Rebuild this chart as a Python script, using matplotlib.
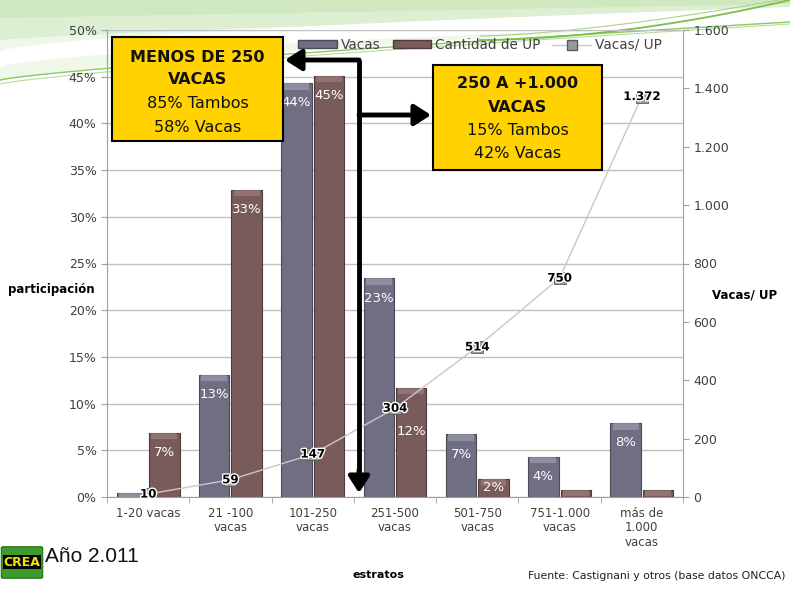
import numpy as np
import matplotlib
matplotlib.use('Agg')
import matplotlib.pyplot as plt
import matplotlib.patches as mpatches
import matplotlib.patheffects as pe
from matplotlib.lines import Line2D
from matplotlib.ticker import FuncFormatter, MultipleLocator

# datos
estratos = ['1-20 vacas', '21 -100\nvacas', '101-250\nvacas', '251-500\nvacas',
            '501-750\nvacas', '751-1.000\nvacas', 'más de\n1.000\nvacas']
vacas = [0.4, 13.1, 44.3, 23.4, 6.7, 4.3, 7.9]
cant_up = [6.9, 32.9, 45.1, 11.7, 1.9, 0.8, 0.8]
vacas_lbl = ['', '13%', '44%', '23%', '7%', '4%', '8%']
up_lbl = ['7%', '33%', '45%', '12%', '2%', '', '']
vacas_up = [10, 59, 147, 304, 514, 750, 1372]
vacas_up_lbl = ['10', '59', '147', '304', '514', '750', '1.372']

W, H = 790, 590
fig = plt.figure(figsize=(7.9, 5.9), dpi=100)

def fx(x):
    return x / W

def fy(y):
    return 1 - y / H

# fondo verde decorativo
bg = fig.add_axes([0, 0, 1, 1], zorder=-5)
bg.set_xlim(0, W)
bg.set_ylim(H, 0)
bg.axis('off')
xx = np.linspace(0, W, 200)
top1 = 82 - 62 * (xx / W) ** 0.7
bg.fill_between(xx, 0, top1, color='#EEF7E8', lw=0)
bg.fill_between(xx, 0, 40 - 30 * (xx / W) ** 0.8, color='#DDEFD2', lw=0)
bg.fill_between(xx, 0, 18 - 14 * (xx / W), color='#CFE8C0', lw=0)
white = 62 - 45 * (xx / W) ** 0.6
bg.fill_between(xx, white - 10, white + 6, color='white', lw=0)
bg.plot(xx, 80 - 58 * (xx / W) ** 0.8, color='#8CC860', lw=1.0)
bg.plot(xx, 84 - 60 * (xx / W) ** 0.8, color='#B8DC9C', lw=0.8)
xr = np.linspace(480, W, 80)
bg.plot(xr, 40 - 40 * ((xr - 480) / (W - 480)) ** 1.8, color='#7DBE4A', lw=1.3)
bg.plot(xr, 36 - 38 * ((xr - 480) / (W - 480)) ** 1.5, color='#A8D48A', lw=0.8)

ax = fig.add_axes([fx(107), fy(497), fx(683) - fx(107), fy(30) - fy(497)])
ax.set_facecolor('none')
ax2 = ax.twinx()

x = np.arange(len(estratos))
w = 0.37
c_vacas = '#6F6E82'
c_up = '#7A5B5C'
b1 = ax.bar(x - w / 2 - 0.012, vacas, w, color=c_vacas, edgecolor='#4A4A58', lw=0.8, zorder=2)
b2 = ax.bar(x + w / 2 + 0.012, cant_up, w, color=c_up, edgecolor='#4E3A3B', lw=0.8, zorder=2)
# brillo superior
for bars, hl in ((b1, '#9C9CB0'), (b2, '#9C7E7E')):
    for r in bars:
        h = min(0.7, r.get_height())
        ax.bar(r.get_x() + r.get_width() / 2, h, r.get_width() * 0.85,
               bottom=r.get_height() - h, color=hl, lw=0, zorder=2.5, alpha=0.7)

label_shift = {('up', 3): 2.6, ('up', 4): -1.2}
for i in range(len(x)):
    if vacas_lbl[i]:
        ax.text(x[i] - w / 2 - 0.012, vacas[i] - 2.1, vacas_lbl[i], ha='center', va='center',
                color='white', fontsize=9.5, zorder=4)
    if up_lbl[i]:
        yy = cant_up[i] - 2.1 - label_shift.get(('up', i), 0)
        ax.text(x[i] + w / 2 + 0.012, yy, up_lbl[i], ha='center', va='center',
                color='white', fontsize=9.5, zorder=4)

ax.set_xlim(-0.5, len(x) - 0.5)
ax.set_ylim(0, 50)
ax.yaxis.set_major_locator(MultipleLocator(5))
ax.yaxis.set_major_formatter(FuncFormatter(lambda v, p: '%d%%' % v))
ax.grid(axis='y', color='#C0C0C0', lw=1, zorder=0)
ax.set_axisbelow(True)
ax.set_xticks(x)
ax.set_xticklabels(estratos, fontsize=8.5, color='#404040', linespacing=1.15)
ax.set_xticks(np.arange(len(x) + 1) - 0.5, minor=True)
ax.tick_params(axis='x', which='major', length=0, pad=7)
ax.tick_params(axis='x', which='minor', length=4, color='#A0A0A0')
ax.tick_params(axis='y', labelsize=9, labelcolor='#404040', color='#A0A0A0', length=4)
for s in ['top', 'right']:
    ax.spines[s].set_visible(False)
for s in ['left', 'bottom']:
    ax.spines[s].set_color('#A0A0A0')

ax2.plot(x, vacas_up, color='#C8C8C8', lw=1, zorder=3)
ax2.plot(x, vacas_up, ls='none', marker='s', ms=8, mfc='#9A9A9A', mec='#5A5A5A', mew=0.6, zorder=4)
for i in range(len(x)):
    ax2.text(x[i], vacas_up[i], vacas_up_lbl[i], ha='center', va='center', fontsize=8.5,
             fontweight='bold', color='black', zorder=5,
             path_effects=[pe.withStroke(linewidth=2, foreground='white')])
ax2.set_ylim(0, 1600)
ax2.yaxis.set_major_locator(MultipleLocator(200))
ax2.yaxis.set_major_formatter(FuncFormatter(lambda v, p: '{:,.0f}'.format(v).replace(',', '.')))
ax2.tick_params(axis='y', labelsize=9, labelcolor='#404040', color='#A0A0A0', length=4)
for s in ['top', 'left', 'bottom']:
    ax2.spines[s].set_visible(False)
ax2.spines['right'].set_color('#A0A0A0')

# leyenda
handles = [mpatches.Patch(facecolor=c_vacas, edgecolor='#4A4A58'),
           mpatches.Patch(facecolor=c_up, edgecolor='#4E3A3B'),
           Line2D([], [], color='#C8C8C8', lw=1, marker='s', ms=7, mfc='#9A9A9A', mec='#5A5A5A')]
leg = fig.legend(handles, ['Vacas', 'Cantidad de UP', 'Vacas/ UP'], loc='center',
                 bbox_to_anchor=(fx(480), fy(45)), ncol=3, frameon=False, fontsize=9.8,
                 handlelength=2.8, handleheight=0.45, columnspacing=0.9, handletextpad=0.3)
for t in leg.get_texts():
    t.set_color('#404040')

# etiquetas de ejes y textos
fig.text(fx(51), fy(290), 'participación', ha='center', va='center', fontsize=8.5, fontweight='bold')
fig.text(fx(745), fy(295), 'Vacas/ UP', ha='center', va='center', fontsize=8.5, fontweight='bold')
fig.text(fx(378), fy(575), 'estratos', ha='center', va='center', fontsize=8, fontweight='bold')
fig.text(fx(785), fy(576), 'Fuente: Castignani y otros (base datos ONCCA)', ha='right', va='center',
         fontsize=7.8, color='#202020')
fig.text(fx(45), fy(556), 'Año 2.011', ha='left', va='center', fontsize=15,
         family='Liberation Sans', color='#111111')

# logo CREA
fig.add_artist(mpatches.FancyBboxPatch((fx(3), fy(577)), fx(38), fy(548) - fy(577),
                                       boxstyle='round,pad=0.002', transform=fig.transFigure,
                                       facecolor='#3E9B2E', edgecolor='#2D7A20', zorder=10))
fig.add_artist(mpatches.Rectangle((fx(3), fy(569)), fx(38), fy(555) - fy(569),
                                  transform=fig.transFigure, facecolor='black', zorder=11))
fig.text(fx(22), fy(562), 'CREA', ha='center', va='center', fontsize=9, fontweight='bold',
         color='#F2E600', zorder=12)

# cuadros amarillos
def cuadro(x0, y0, x1, y1, lines):
    fig.add_artist(mpatches.Rectangle((fx(x0), fy(y1)), fx(x1) - fx(x0), fy(y0) - fy(y1),
                                      transform=fig.transFigure, facecolor='#FFD200',
                                      edgecolor='black', lw=1.5, zorder=20))
    for k, (txt, yy) in enumerate(lines):
        fig.text(fx((x0 + x1) / 2), fy(yy), txt, ha='center', va='center', fontsize=11.5,
                 fontweight='bold' if k < 2 else 'normal', color='#111111', zorder=21)

cuadro(112, 37, 283, 141, [('MENOS DE 250', 57), ('VACAS', 80), ('85% Tambos', 104), ('58% Vacas', 127)])
cuadro(433, 65, 602, 170, [('250 A +1.000', 84), ('VACAS', 108), ('15% Tambos', 131), ('42% Vacas', 154)])

# flechas
fig.add_artist(Line2D([fx(359), fx(359)], [fy(60), fy(480)], transform=fig.transFigure,
                      color='black', lw=3.5, zorder=19, solid_capstyle='butt'))
for (a, b) in [((359, 60), (285, 60)), ((359, 115), (431, 115)), ((359, 470), (359, 493))]:
    fig.add_artist(mpatches.FancyArrowPatch((fx(a[0]), fy(a[1])), (fx(b[0]), fy(b[1])),
                                            transform=fig.transFigure, arrowstyle='-|>,head_length=7,head_width=4.5',
                                            mutation_scale=1.4, color='black', lw=3.5, zorder=19,
                                            shrinkA=0, shrinkB=0))

fig.savefig('out.png', dpi=100)
